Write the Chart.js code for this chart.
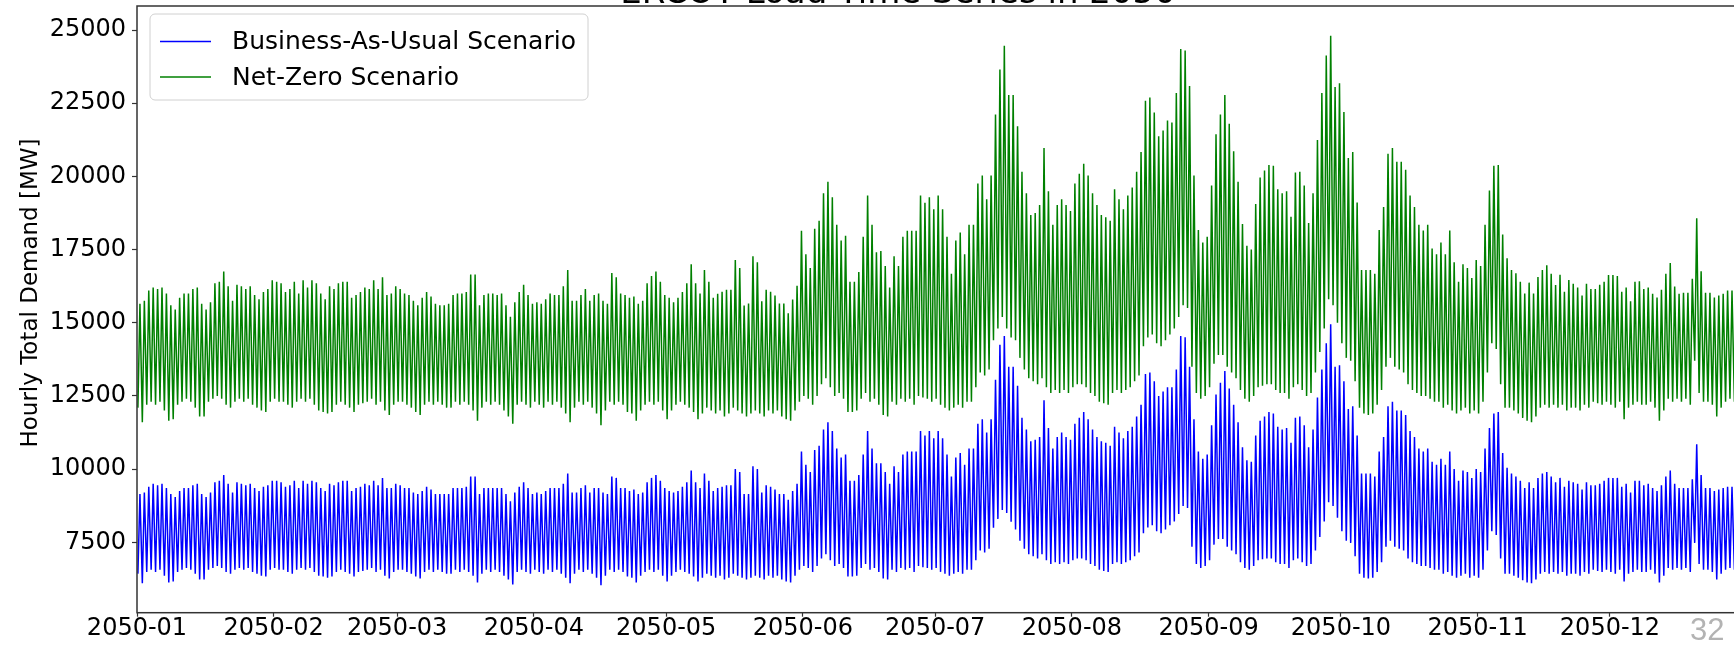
<!DOCTYPE html>
<html><head><meta charset="utf-8">
<script src="https://cdn.jsdelivr.net/npm/chart.js@4.4.1/dist/chart.umd.min.js"></script>
<style>
html,body{margin:0;padding:0;background:#fff;overflow:hidden;width:1734px;height:646px}
canvas{display:block}
</style></head>
<body>
<canvas id="c" width="1760" height="646" style="width:1760px;height:646px"></canvas>
<script>
const seriesLabels = ['Business-As-Usual Scenario', 'Net-Zero Scenario'];
const yAxisTitle = 'Hourly Total Demand [MW]';
const monthTicks = [0, 31, 59, 90, 120, 151, 181, 212, 243, 273, 304, 334];
const monthLabels = ['2050-01','2050-02','2050-03','2050-04','2050-05','2050-06','2050-07','2050-08','2050-09','2050-10','2050-11','2050-12'];
const yTicks = [7500, 10000, 12500, 15000, 17500, 20000, 22500, 25000];

// Net-Zero scenario: daily peak / daily trough [MW]
const nzDailyMax = [
15650,15750,16100,16200,16150,16200,16000,
15600,15450,15850,16000,16000,16150,16200,
15650,15450,15700,16350,16400,16750,16250,
15750,16300,16250,16150,16250,15950,15800,
16050,16150,16450,16400,16350,16050,16150,
16400,16000,16450,16200,16450,16350,16000,
15800,16250,16150,16350,16400,16400,15850,
15950,16050,16200,16150,16450,16150,16550,15950,
16000,16250,16150,16000,15950,15750,15600,
15850,16050,15900,15650,15600,15600,15650,
15950,16000,16000,16050,16650,16650,15600,
15950,16000,16000,15950,16000,15600,15200,
15700,16050,16300,15950,15650,15700,15650,
15800,16000,15950,15950,16250,16800,15750,
15750,15950,16150,15750,15950,16000,15750,
15650,16700,16550,16000,15950,15850,15900,15650,
15750,16350,16600,16750,16400,15950,15850,
15700,15850,16050,16350,17000,16350,16000,
16800,16400,15850,15990,16060,16130,16130,
17140,16870,15590,15660,17270,17070,15730,
16130,16060,15930,15660,15660,15320,15790,
16260,18140,17340,16870,18210,18480,19420,
19820,19290,18350,17810,17970,16400,16400,
16730,17940,19350,18350,17410,17450,16940,
16200,17270,16940,17940,18140,18140,18140,
19350,19100,19290,18880,19350,18880,17940,16670,
17810,18080,17340,18350,18350,19760,20030,
19220,20030,22110,23650,24460,22780,22780,
21710,20160,19420,18680,18750,19020,20970,
19490,18350,19020,19220,19020,18820,19760,
20090,20430,20030,19420,19020,18680,18600,18480,
19560,19220,18880,19350,19620,20160,20830,
22580,22690,22180,21370,21570,21910,21840,
22850,24350,24300,23090,20030,18170,17740,
17940,19690,21440,22110,22780,21800,20860,
19820,18370,17630,17500,19060,19960,20200,20390,
20360,19560,19420,19490,18620,20130,20160,
19690,18410,19420,21240,22850,24130,24800,
23050,23180,22200,20630,20830,19110,16800,
16800,16800,16670,18170,18950,20770,20970,
20500,20500,20230,19350,18950,18350,18150,
18350,17540,17340,17740,17340,18150,17070,
16400,17000,16870,16530,17140,16940,18350,
19520,20360,20390,18010,17200,16800,16690,
16400,16000,16370,16000,16560,16800,16960,
16670,16290,16640,16060,16460,16330,16200,
15930,16330,16150,16150,16300,16400,16630,16630,
16600,16060,16200,15730,16400,16420,16150,
16200,15990,15860,16130,16670,17040,16240,
15990,16020,16020,16500,18570,16760,16020,
16020,15860,15930,15990,16100,16100,16130,
16000,15900
];
const nzDailyMin = [
12100,11600,12200,12300,12200,12300,12000,
11650,11700,12200,12300,12400,12300,12100,
11800,11800,12300,12400,12500,12400,12200,
12100,12300,12400,12300,12400,12200,12100,
12000,11950,12300,12400,12300,12300,12200,
12100,12300,12400,12300,12400,12200,12000,
11950,11900,11950,12200,12300,12200,12100,
11950,12200,12250,12300,12400,12200,12300,12000,
11850,12200,12300,12300,12200,12100,11950,
11850,12200,12300,12200,12300,12200,12100,
12100,12300,12200,12300,12200,12000,11650,
12100,12300,12200,12300,12200,12000,11800,
11550,12200,12300,12200,12100,12300,12200,
12100,12300,12200,12300,12100,11900,11600,
12100,12300,12200,12300,12100,11900,11500,
12000,12300,12200,12300,12200,11950,11900,11650,
12000,12200,12300,12200,12300,12000,11700,
12000,12200,12300,12200,12100,11950,11700,
11900,12100,12000,11900,12000,11800,11900,
12100,12000,11900,11800,11900,12000,11900,
11800,12000,11900,12000,11800,11700,11650,
12000,12300,12500,12400,12200,12500,12900,
13100,12800,12500,12600,12400,11950,11950,
12000,12400,12600,12300,12400,12200,11850,
11800,12300,12200,12400,12300,12400,12200,
12500,12450,12400,12300,12400,12200,12100,12000,
12100,12200,12100,12300,12300,12800,13300,
13200,13400,14400,14800,15200,14800,14500,
14400,13800,13400,13100,13000,12900,13100,
12800,12600,12700,12600,12700,12600,12800,
12900,12900,12800,12600,12500,12300,12250,12200,
12600,12700,12600,12700,12800,13000,13200,
14200,14500,14600,14300,14200,14400,14600,
14800,15200,15600,15500,13500,12600,12400,
12500,12800,13600,13900,13900,13500,13300,
13100,12700,12400,12300,12500,12800,12850,12900,
12900,12700,12600,12600,12400,12800,12900,
12700,12500,12600,13300,14000,14800,15800,
15600,15000,14300,13800,13700,13000,12100,
11900,11850,11900,12200,12700,13500,13800,
13500,13400,13300,12900,12700,12600,12500,
12500,12400,12300,12300,12100,12200,12000,
11900,12000,12100,11900,12000,11900,12300,
13300,14300,14100,12900,12100,12100,12000,
11900,11750,11650,11600,11800,12100,12200,
12100,12200,12100,12200,12000,12100,12100,
12000,12200,12100,12300,12250,12200,12300,12200,
12100,12300,11700,12100,12200,12300,12200,
12200,12300,12100,11650,12000,12400,12300,
12400,12300,12400,12200,13700,12600,12300,
12300,12200,11800,12100,12300,12400,12300,
12200,12100
];

// Business-As-Usual scenario: daily peak / daily trough [MW]
const bauDailyMax = [
9150,9200,9400,9500,9450,9500,9350,
9150,9050,9250,9350,9350,9450,9500,
9150,9050,9200,9550,9600,9800,9500,
9200,9550,9500,9450,9500,9350,9250,
9400,9450,9600,9600,9550,9400,9450,
9600,9350,9600,9500,9600,9550,9350,
9250,9500,9450,9550,9600,9600,9250,
9350,9400,9500,9450,9600,9450,9700,9350,
9350,9500,9450,9350,9350,9200,9150,
9250,9400,9300,9150,9150,9150,9150,
9350,9350,9350,9400,9750,9750,9150,
9350,9350,9350,9350,9350,9150,8900,
9200,9400,9550,9350,9150,9200,9150,
9250,9350,9350,9350,9500,9850,9200,
9200,9350,9450,9200,9350,9350,9200,
9150,9750,9700,9350,9350,9250,9300,9150,
9200,9550,9700,9800,9600,9350,9250,
9200,9250,9400,9550,9950,9550,9350,
9850,9600,9250,9350,9400,9450,9450,
10000,9900,9150,9150,10100,10000,9200,
9450,9400,9300,9150,9150,8950,9250,
9500,10600,10150,9900,10650,10800,11350,
11600,11300,10700,10400,10500,9600,9600,
9800,10500,11300,10700,10200,10200,9900,
9500,10100,9900,10500,10600,10600,10600,
11300,11150,11300,11050,11300,11050,10500,9750,
10400,10550,10150,10700,10700,11550,11700,
11250,11700,13050,14250,14550,13500,13500,
12850,11750,11350,10950,11000,11100,12350,
11400,10700,11100,11250,11100,11000,11550,
11750,11950,11700,11350,11100,10950,10900,10800,
11450,11250,11050,11300,11450,11800,12200,
13250,13300,13000,12500,12650,12800,12800,
13400,14550,14500,13500,11700,10600,10350,
10500,11500,12550,12950,13350,12750,12200,
11600,10750,10300,10250,11150,11650,11800,11950,
11900,11450,11350,11400,10900,11750,11800,
11500,10750,11350,12450,13400,14300,14950,
13500,13550,13000,12050,12150,11150,9850,
9850,9850,9750,10600,11100,12150,12300,
12000,12000,11850,11300,11100,10700,10600,
10700,10250,10150,10350,10150,10600,10000,
9600,9950,9900,9700,10000,9900,10700,
11400,11900,11950,10550,10050,9850,9750,
9600,9350,9550,9350,9700,9850,9900,
9750,9550,9700,9400,9600,9550,9500,
9300,9550,9450,9450,9500,9600,9700,9700,
9700,9400,9500,9200,9600,9600,9450,
9500,9350,9250,9450,9750,9950,9500,
9350,9350,9350,9650,10850,9800,9350,
9350,9250,9300,9350,9400,9400,9450,
9350,9300
];
const bauDailyMin = [
6430,6100,6490,6560,6490,6560,6360,
6130,6160,6490,6560,6620,6560,6430,
6230,6230,6560,6620,6690,6620,6490,
6430,6560,6620,6560,6620,6490,6430,
6360,6330,6560,6620,6560,6560,6490,
6430,6560,6620,6560,6620,6490,6360,
6330,6290,6330,6490,6560,6490,6430,
6330,6490,6520,6560,6620,6490,6560,6360,
6260,6490,6560,6560,6490,6430,6330,
6260,6490,6560,6490,6560,6490,6430,
6430,6560,6490,6560,6490,6360,6130,
6430,6560,6490,6560,6490,6360,6230,
6060,6490,6560,6490,6430,6560,6490,
6430,6560,6490,6560,6430,6290,6100,
6430,6560,6490,6560,6430,6290,6030,
6360,6560,6490,6560,6490,6330,6290,6130,
6360,6490,6560,6490,6560,6360,6160,
6360,6490,6560,6490,6430,6330,6160,
6290,6430,6360,6290,6360,6230,6290,
6430,6360,6290,6230,6290,6360,6290,
6230,6360,6290,6360,6230,6160,6130,
6360,6560,6690,6620,6490,6690,6950,
7090,6890,6690,6760,6620,6330,6330,
6360,6620,6760,6560,6620,6490,6260,
6230,6560,6490,6620,6560,6620,6490,
6690,6650,6620,6560,6620,6490,6430,6360,
6430,6490,6430,6560,6560,6890,7220,
7150,7280,8000,8300,8600,8500,8200,
7940,7550,7280,7090,7020,6950,7090,
6890,6760,6820,6760,6820,6760,6890,
6950,6950,6890,6760,6690,6560,6520,6490,
6760,6820,6760,6820,6890,7020,7150,
7810,8010,8080,7880,7810,7940,8080,
8210,8470,8740,8670,7350,6760,6620,
6690,6890,7420,7610,7610,7350,7220,
7090,6820,6620,6560,6690,6890,6920,6950,
6950,6820,6760,6760,6620,6890,6950,
6820,6690,6760,7220,7680,8210,8870,
8740,8340,7880,7550,7480,7020,6430,
6290,6260,6290,6490,6820,7350,7550,
7350,7280,7220,6950,6820,6760,6690,
6690,6620,6560,6560,6430,6490,6360,
6290,6360,6430,6290,6360,6290,6560,
7220,7880,7750,6950,6430,6430,6360,
6290,6200,6130,6100,6230,6430,6490,
6430,6490,6430,6490,6360,6430,6430,
6360,6490,6430,6560,6520,6490,6560,6490,
6430,6560,6160,6430,6490,6560,6490,
6490,6560,6430,6130,6360,6620,6560,
6620,6560,6620,6490,7480,6760,6560,
6560,6490,6230,6430,6560,6620,6560,
6490,6430
];

const troughHour = 5;   // hour of day of the daily minimum
const peakHour = 16;    // hour of day of the daily maximum

function toPoints(mins, maxs) {
  const pts = [];
  const n = Math.min(mins.length, maxs.length);
  for (let d = 0; d < n; d++) {
    pts.push({x: d + troughHour / 24, y: mins[d]});
    pts.push({x: d + peakHour / 24, y: maxs[d]});
  }
  return pts;
}

Chart.defaults.font.family = '"DejaVu Sans", sans-serif';
Chart.defaults.color = '#000';

const framePlugin = {
  id: 'frame',
  afterDatasetsDraw(chart) {
    const {ctx, chartArea: a} = chart;
    ctx.save();
    ctx.strokeStyle = '#333';
    ctx.lineWidth = 1.5;
    ctx.strokeRect(a.left, a.top, a.right - a.left, a.bottom - a.top);
    ctx.restore();
  }
};

const legendPlugin = {
  id: 'mplLegend',
  afterDraw(chart) {
    const {ctx} = chart;
    const bx = 150, by = 14, bw = 438, bh = 86;
    ctx.save();
    ctx.beginPath();
    ctx.roundRect(bx, by, bw, bh, 5);
    ctx.fillStyle = 'rgba(255,255,255,0.85)';
    ctx.fill();
    ctx.strokeStyle = '#d0d0d0';
    ctx.lineWidth = 1;
    ctx.stroke();
    const rows = [41.5, 77];
    chart.data.datasets.forEach((ds, i) => {
      ctx.strokeStyle = ds.borderColor;
      ctx.lineWidth = 1.5;
      ctx.beginPath();
      ctx.moveTo(160, rows[i]);
      ctx.lineTo(211, rows[i]);
      ctx.stroke();
      ctx.fillStyle = '#000';
      ctx.font = '25px "DejaVu Sans"';
      ctx.textBaseline = 'middle';
      ctx.textAlign = 'left';
      ctx.fillText(ds.label, 232, rows[i] + 1);
    });
    ctx.restore();
  }
};

const textPlugin = {
  id: 'extraText',
  afterDraw(chart) {
    const {ctx} = chart;
    ctx.save();
    ctx.fillStyle = '#000';
    ctx.font = '34px "DejaVu Sans"';
    ctx.textAlign = 'center';
    ctx.textBaseline = 'alphabetic';
    ctx.fillText('ERCOT Load Time Series in 2050', 898, 3);
    // y-axis title
    ctx.save();
    ctx.translate(31, 293);
    ctx.rotate(-Math.PI / 2);
    ctx.font = '23px "DejaVu Sans"';
    ctx.textAlign = 'center';
    ctx.textBaseline = 'middle';
    ctx.fillText(yAxisTitle, 0, 0);
    ctx.restore();
    // page number
    ctx.fillStyle = '#b3b3b3';
    ctx.font = '31px "Liberation Sans"';
    ctx.textAlign = 'left';
    ctx.fillText('32', 1690, 640);
    ctx.restore();
  }
};

new Chart(document.getElementById('c'), {
  type: 'line',
  data: {
    datasets: [
      {label: seriesLabels[0], data: toPoints(bauDailyMin, bauDailyMax), borderColor: '#0000ff', borderWidth: 1.5, pointRadius: 0, tension: 0, fill: false},
      {label: seriesLabels[1], data: toPoints(nzDailyMin, nzDailyMax), borderColor: '#008000', borderWidth: 1.5, pointRadius: 0, tension: 0, fill: false}
    ]
  },
  options: {
    responsive: false,
    animation: false,
    devicePixelRatio: 1,
    layout: {padding: {left: 0, top: 6, right: 13.3, bottom: 0}},
    plugins: {legend: {display: false}, tooltip: {enabled: false}, title: {display: false}},
    scales: {
      x: {
        type: 'linear', min: 0, max: 365,
        border: {display: false},
        grid: {display: true, drawOnChartArea: false, tickLength: 4, tickColor: '#333', tickWidth: 1.2},
        ticks: {autoSkip: false, maxRotation: 0, minRotation: 0, padding: -2, font: {size: 24}, color: '#000',
                callback: (v, i) => monthLabels[i]},
        afterBuildTicks: (s) => { s.ticks = monthTicks.map(v => ({value: v})); },
        afterFit: (s) => { s.height = 646 - 612.7; s.paddingLeft = 0; s.paddingRight = 0; }
      },
      y: {
        type: 'linear', min: 5095, max: 25820,
        border: {display: false},
        grid: {display: true, drawOnChartArea: false, tickLength: 5, tickColor: '#333', tickWidth: 1.2},
        ticks: {autoSkip: false, padding: 6, font: {size: 24}, color: '#000', callback: (v) => String(v)},
        afterBuildTicks: (s) => { s.ticks = yTicks.map(v => ({value: v})); },
        afterFit: (s) => { s.width = 137; s.paddingTop = 0; s.paddingBottom = 0; },
        title: {display: false}
      }
    }
  },
  plugins: [framePlugin, legendPlugin, textPlugin]
});
</script>
</body></html>
